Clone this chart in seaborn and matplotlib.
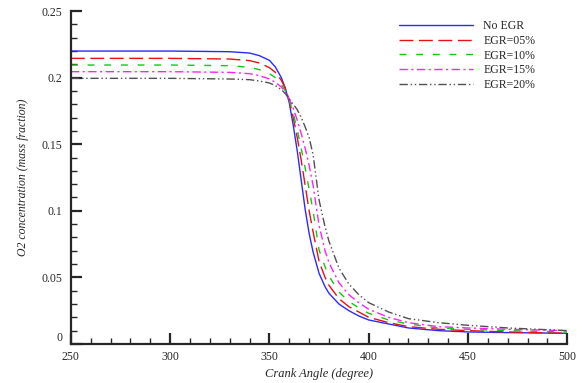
import matplotlib
matplotlib.use("Agg")
import matplotlib.pyplot as plt
from matplotlib.ticker import MultipleLocator, FixedLocator
import seaborn as sns
import pandas as pd

crank = [250, 300, 330, 340, 345, 350, 353, 356, 358, 360, 362, 364, 366, 368, 370,
         372, 375, 378, 380, 385, 390, 395, 400, 410, 420, 435, 450, 470, 500]

no_egr = [0.2200, 0.2200, 0.2195, 0.2185, 0.2165, 0.2130, 0.2080, 0.2000, 0.1920, 0.1810,
          0.1640, 0.1450, 0.1230, 0.1010, 0.0830, 0.0690, 0.0530, 0.0430, 0.0380, 0.0300,
          0.0250, 0.0210, 0.0180, 0.0150, 0.0120, 0.0100, 0.0090, 0.0085, 0.0080]
egr05 = [0.2145, 0.2145, 0.2140, 0.2128, 0.2110, 0.2075, 0.2040, 0.1980, 0.1920, 0.1830,
         0.1700, 0.1550, 0.1380, 0.1190, 0.1000, 0.0840, 0.0620, 0.0500, 0.0440, 0.0340,
         0.0280, 0.0240, 0.0200, 0.0160, 0.0130, 0.0110, 0.0100, 0.0090, 0.0080]
egr10 = [0.2095, 0.2095, 0.2090, 0.2078, 0.2060, 0.2030, 0.2000, 0.1950, 0.1900, 0.1830,
         0.1730, 0.1610, 0.1470, 0.1320, 0.1160, 0.1000, 0.0705, 0.0580, 0.0510, 0.0390,
         0.0320, 0.0270, 0.0230, 0.0180, 0.0150, 0.0120, 0.0110, 0.0100, 0.0090]
egr15 = [0.2045, 0.2045, 0.2040, 0.2030, 0.2015, 0.1990, 0.1965, 0.1930, 0.1890, 0.1840,
         0.1770, 0.1680, 0.1580, 0.1470, 0.1340, 0.1190, 0.0890, 0.0700, 0.0610, 0.0460,
         0.0370, 0.0310, 0.0260, 0.0200, 0.0160, 0.0130, 0.0120, 0.0110, 0.0100]
egr20 = [0.1995, 0.1995, 0.1990, 0.1985, 0.1975, 0.1960, 0.1940, 0.1910, 0.1880, 0.1840,
         0.1800, 0.1760, 0.1700, 0.1630, 0.1550, 0.1420, 0.1080, 0.0880, 0.0770, 0.0570,
         0.0450, 0.0370, 0.0310, 0.0240, 0.0190, 0.0160, 0.0140, 0.0120, 0.0100]

labels = ["No EGR", "EGR=05%", "EGR=10%", "EGR=15%", "EGR=20%"]
series = [no_egr, egr05, egr10, egr15, egr20]

x_ticks = [250, 300, 350, 400, 450, 500]
y_ticks = [0, 0.05, 0.1, 0.15, 0.2, 0.25]
y_tick_labels = ["0", "0.05", "0.1", "0.15", "0.2", "0.25"]

rows = []
for lab, vals in zip(labels, series):
    for c, v in zip(crank, vals):
        rows.append({"crank": c, "o2": v, "case": lab})
df = pd.DataFrame(rows)

sns.set_style("ticks")
plt.rcParams["font.family"] = ["Liberation Serif", "DejaVu Serif"]

palette = {"No EGR": "#2a2aff", "EGR=05%": "#e81010", "EGR=10%": "#10c810",
           "EGR=15%": "#ff20ff", "EGR=20%": "#505050"}
dashes = {"No EGR": "", "EGR=05%": (10, 4), "EGR=10%": (5, 7),
          "EGR=15%": (6, 2.5, 1.5, 2.5), "EGR=20%": (6, 2, 1, 2, 1, 2)}

fig = plt.figure(figsize=(5.86, 3.83), dpi=100)
ax = fig.add_axes([0.121, 0.102, 0.847, 0.869])

sns.lineplot(data=df, x="crank", y="o2", hue="case", style="case",
             palette=palette, dashes=dashes, linewidth=1.0, ax=ax,
             hue_order=labels, style_order=labels)

ax.set_xlim(250, 500)
ax.set_ylim(0, 0.25)
ax.xaxis.set_major_locator(FixedLocator(x_ticks))
ax.xaxis.set_minor_locator(MultipleLocator(10))
ax.yaxis.set_major_locator(FixedLocator(y_ticks))
ax.set_yticklabels(y_tick_labels)
ax.yaxis.set_minor_locator(MultipleLocator(0.01))

for s in ["top", "right"]:
    ax.spines[s].set_visible(False)
for s in ["left", "bottom"]:
    ax.spines[s].set_linewidth(1.6)

ax.tick_params(which="major", direction="in", length=8, width=1.6, labelsize=8.5)
ax.tick_params(which="minor", direction="in", length=4, width=1.0)
ax.tick_params(axis="x", which="major", pad=5)
ax.tick_params(axis="y", which="major", pad=6)
ax.get_yticklabels()[0].set_verticalalignment("bottom")

ax.set_xlabel("Crank Angle (degree)", fontsize=9, style="italic", labelpad=4)
ax.set_ylabel("O2 concentration (mass fraction)", fontsize=8.5, style="italic",
              labelpad=9)

leg = ax.legend(loc="upper left", bbox_to_anchor=(0.662, 0.972), frameon=False,
                fontsize=8.5, handlelength=6.2, handletextpad=0.9,
                labelspacing=0.22, borderaxespad=0.0, borderpad=0.0)
leg.set_title(None)

fig.savefig("out.png", dpi=100)
